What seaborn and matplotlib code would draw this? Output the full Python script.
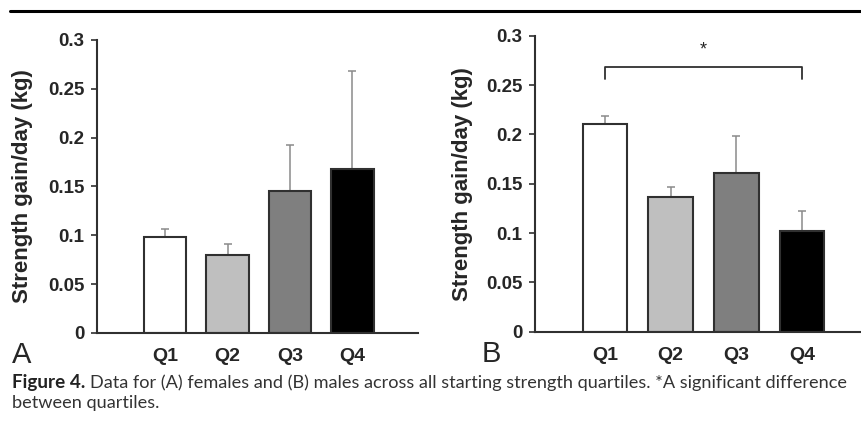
import numpy as np
import pandas as pd
import seaborn as sns
from matplotlib import pyplot as plt

sns.set_style("white")
plt.rcParams['font.family'] = ['Liberation Sans', 'DejaVu Sans']

quartiles = ['Q1', 'Q2', 'Q3', 'Q4']
barColors = ['#ffffff', '#bfbfbf', '#7f7f7f', '#000000']

femaleGain = [0.098, 0.080, 0.145, 0.168]
femaleErr = [0.008, 0.011, 0.047, 0.100]

maleGain = [0.210, 0.137, 0.161, 0.102]
maleErr = [0.009, 0.010, 0.037, 0.020]

yTicks = [0, 0.05, 0.1, 0.15, 0.2, 0.25, 0.3]
yTickLabels = ['0', '0.05', '0.1', '0.15', '0.2', '0.25', '0.3']

fig = plt.figure(figsize=(8.61, 4.30), dpi=100)

axA = fig.add_axes([0.1127, 0.2256, 0.3728, 0.6814])
axB = fig.add_axes([0.6214, 0.2286, 0.3786, 0.6884])


def drawPanel(ax, gain, err, xlim, letter, letterX, labelX):
    df = pd.DataFrame({'Quartile': quartiles, 'Gain': gain})
    sns.barplot(data=df, x='Quartile', y='Gain', hue='Quartile', palette=barColors,
                width=0.68, edgecolor='#303030', linewidth=1.5, legend=False, ax=ax,
                zorder=2)
    ax.errorbar(np.arange(len(gain)), gain, yerr=[np.zeros(len(err)), err], fmt='none',
                ecolor='#8a8a8a', elinewidth=1.1, capsize=3, capthick=1.1, zorder=1)
    ax.set_xlim(*xlim)
    ax.set_ylim(0, 0.3)
    ax.set_yticks(yTicks)
    ax.set_yticklabels(yTickLabels, fontsize=13.5, fontweight='bold')
    ax.set_xticks(range(4))
    ax.set_xticklabels(quartiles, fontsize=14, fontweight='bold')
    ax.tick_params(axis='y', length=4, width=1.2, color='#303030', pad=5, direction='out', left=True)
    ax.tick_params(axis='x', length=0, pad=11)
    ax.set_xlabel('')
    ax.set_ylabel('Strength gain/day (kg)', fontsize=16, fontweight='bold')
    ax.yaxis.set_label_coords(labelX, 0.5)
    for side in ['top', 'right']:
        ax.spines[side].set_visible(False)
    for side in ['left', 'bottom']:
        ax.spines[side].set_color('#303030')
        ax.spines[side].set_linewidth(1.5)
    ax.text(letterX, -0.075, letter, transform=ax.transAxes, fontsize=21, ha='left', va='center')


drawPanel(axA, femaleGain, femaleErr, (-1.09, 4.05), 'A', -0.265, -0.2)
drawPanel(axB, maleGain, maleErr, (-1.065, 3.9), 'B', -0.165, -0.19)

# significance bracket Q1 vs Q4
axB.plot([0, 0, 3, 3], [0.256, 0.268, 0.268, 0.256], color='#303030', lw=1.3, clip_on=False)
axB.text(1.5, 0.286, '*', ha='center', va='center', fontsize=13)

# rule on top of figure
fig.add_artist(plt.Line2D([0.012, 1.0], [0.975, 0.975], color='black', lw=2.2))

capFont = ['Lato', 'DejaVu Sans']
boldPart = fig.text(0.014, 0.097, 'Figure 4.', fontsize=13.6, fontweight='bold', family=capFont,
                    color='#222222')
fig.canvas.draw()
bb = boldPart.get_window_extent().transformed(fig.transFigure.inverted())
fig.text(bb.x1 + 0.005, 0.097, 'Data for (A) females and (B) males across all starting strength '
         'quartiles. *A significant difference', fontsize=13.1, family=capFont, color='#333333')
fig.text(0.014, 0.052, 'between quartiles.', fontsize=13.1, family=capFont, color='#333333')

fig.savefig('out.png', dpi=100)
